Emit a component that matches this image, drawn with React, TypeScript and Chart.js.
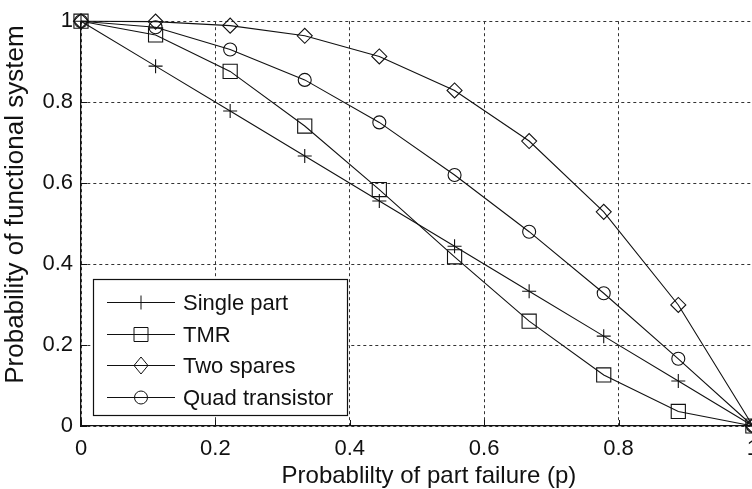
import React, { useEffect, useRef } from "react";
import { Chart, registerables } from "chart.js";

Chart.register(...registerables);

const pValues = [0, 0.111, 0.222, 0.333, 0.444, 0.556, 0.667, 0.778, 0.889, 1];
const singlePart = [1, 0.889, 0.778, 0.667, 0.556, 0.444, 0.333, 0.222, 0.111, 0];
const tmr = [1, 0.966, 0.876, 0.741, 0.584, 0.418, 0.259, 0.126, 0.036, 0];
const twoSpares = [1, 0.999, 0.989, 0.964, 0.913, 0.829, 0.704, 0.529, 0.299, 0];
const quadTransistor = [1, 0.985, 0.93, 0.855, 0.75, 0.62, 0.48, 0.328, 0.166, 0];

const seriesNames = ["Single part", "TMR", "Two spares", "Quad transistor"];
const xTickLabels = ["0", "0.2", "0.4", "0.6", "0.8", "1"];
const yTickLabels = ["0", "0.2", "0.4", "0.6", "0.8", "1"];
const xTitle = "Probablilty of part failure (p)";
const yTitle = "Probability of functional system";

const FONT = "'Liberation Sans', Arial, Helvetica, sans-serif";
const INK = "#111111";

function drawMarker(ctx: CanvasRenderingContext2D, style: string, x: number, y: number) {
  ctx.beginPath();
  if (style === "cross") {
    ctx.moveTo(x - 7, y);
    ctx.lineTo(x + 7, y);
    ctx.moveTo(x, y - 7);
    ctx.lineTo(x, y + 7);
  } else if (style === "rect") {
    ctx.rect(x - 7, y - 7, 14, 14);
  } else if (style === "rectRot") {
    ctx.moveTo(x - 7, y);
    ctx.lineTo(x, y - 8.5);
    ctx.lineTo(x + 7, y);
    ctx.lineTo(x, y + 8.5);
    ctx.closePath();
  } else {
    ctx.arc(x, y, 6.5, 0, Math.PI * 2);
  }
  ctx.stroke();
}

const inwardTicks = {
  id: "inwardTicks",
  beforeDatasetsDraw(chart: any) {
    const { ctx, chartArea, scales } = chart;
    ctx.save();
    ctx.strokeStyle = INK;
    ctx.lineWidth = 1;
    ctx.beginPath();
    scales.x.ticks.forEach((t: any) => {
      const x = Math.round(scales.x.getPixelForValue(t.value)) + 0.5;
      ctx.moveTo(x, chartArea.bottom);
      ctx.lineTo(x, chartArea.bottom - 6);
    });
    scales.y.ticks.forEach((t: any) => {
      const y = Math.round(scales.y.getPixelForValue(t.value)) + 0.5;
      ctx.moveTo(chartArea.left, y);
      ctx.lineTo(chartArea.left + 6, y);
    });
    ctx.stroke();
    ctx.restore();
  },
};

const axisTitles = {
  id: "axisTitles",
  afterDraw(chart: any) {
    const { ctx, chartArea } = chart;
    ctx.save();
    ctx.fillStyle = INK;
    ctx.textAlign = "center";
    ctx.textBaseline = "middle";
    ctx.font = `24px ${FONT}`;
    ctx.fillText(xTitle, (chartArea.left + chartArea.right) / 2 + 12, chartArea.bottom + 50);
    ctx.translate(16, (chartArea.top + chartArea.bottom) / 2 - 19);
    ctx.rotate(-Math.PI / 2);
    ctx.font = `26px ${FONT}`;
    ctx.fillText(yTitle, 0, 0);
    ctx.restore();
  },
};

const boxLegend = {
  id: "boxLegend",
  afterDatasetsDraw(chart: any) {
    const { ctx, chartArea } = chart;
    const x0 = Math.round(chartArea.left) + 12;
    const y1 = Math.round(chartArea.bottom) - 11;
    const w = 254;
    const h = 136;
    const y0 = y1 - h;
    ctx.save();
    ctx.fillStyle = "#ffffff";
    ctx.fillRect(x0, y0, w, h);
    ctx.strokeStyle = INK;
    ctx.lineWidth = 1.2;
    ctx.strokeRect(x0 + 0.5, y0 + 0.5, w, h);
    ctx.font = `22px ${FONT}`;
    ctx.textBaseline = "middle";
    ctx.textAlign = "left";
    chart.data.datasets.forEach((ds: any, i: number) => {
      const y = Math.round(y0 + 23 + i * 31.7) + 0.5;
      ctx.strokeStyle = ds.borderColor;
      ctx.lineWidth = 1;
      ctx.beginPath();
      ctx.moveTo(x0 + 14, y);
      ctx.lineTo(x0 + 82, y);
      ctx.stroke();
      drawMarker(ctx, ds.pointStyle, x0 + 48, y);
      ctx.fillStyle = INK;
      ctx.fillText(ds.label, x0 + 90, y + 1);
    });
    ctx.restore();
  },
};

export default function App() {
  const ref = useRef<HTMLCanvasElement | null>(null);

  useEffect(() => {
    if (!ref.current) return;
    const series = [singlePart, tmr, twoSpares, quadTransistor];
    const styles = ["cross", "rect", "rectRot", "circle"];
    const radii = [7, 10, 7.5, 6.5];
    const datasets = series.map((vals, i) => ({
      label: seriesNames[i],
      data: pValues.map((p, j) => ({ x: p, y: vals[j] })),
      borderColor: INK,
      backgroundColor: "rgba(0,0,0,0)",
      borderWidth: 1.1,
      pointStyle: styles[i],
      pointRadius: radii[i],
      pointBorderWidth: 1.1,
      pointBorderColor: INK,
      pointBackgroundColor: "rgba(0,0,0,0)",
      tension: 0,
      fill: false,
      clip: false as any,
    }));

    const chart = new Chart(ref.current, {
      type: "line",
      data: { datasets },
      plugins: [inwardTicks, boxLegend, axisTitles],
      options: {
        animation: false,
        responsive: false,
        devicePixelRatio: 1,
        layout: { padding: { top: 18, left: 0, right: 0, bottom: 0 } },
        plugins: { legend: { display: false }, tooltip: { enabled: false } },
        scales: {
          x: {
            type: "linear",
            min: 0,
            max: 1,
            afterFit: (s: any) => {
              s.height = 63;
            },
            ticks: {
              stepSize: 0.2,
              color: INK,
              font: { family: FONT, size: 22 },
              padding: 10,
              maxRotation: 0,
              callback: (_v: any, i: number) => xTickLabels[i],
            },
            grid: { color: "#333333", lineWidth: 1, drawTicks: false },
            border: { display: true, color: INK, width: 1.3, dash: [3, 3] },
            title: { display: false },
          },
          y: {
            type: "linear",
            min: 0,
            max: 1,
            afterFit: (s: any) => {
              s.width = 81;
            },
            ticks: {
              stepSize: 0.2,
              color: INK,
              font: { family: FONT, size: 22 },
              padding: 8,
              callback: (_v: any, i: number) => yTickLabels[i],
            },
            grid: { color: "#333333", lineWidth: 1, drawTicks: false },
            border: { display: true, color: INK, width: 1.3, dash: [3, 3] },
            title: { display: false },
          },
        },
      },
    });
    return () => chart.destroy();
  }, []);

  return (
    <div
      style={{
        position: "fixed",
        left: 0,
        top: 0,
        width: 752,
        height: 489,
        overflow: "hidden",
        background: "#fff",
      }}
    >
      <canvas ref={ref} width={769} height={489} style={{ display: "block" }} />
    </div>
  );
}
